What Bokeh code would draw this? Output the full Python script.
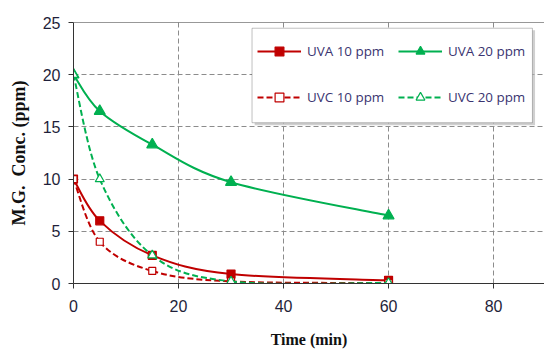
from bokeh.plotting import figure
from bokeh.models import Range1d, Legend, LegendItem, BoxAnnotation, Span, FixedTicker
from bokeh.embed import file_html
from bokeh.resources import INLINE

# ---- data ----
time_min = [0, 5, 15, 30, 60]
uva_10 = [10.0, 6.0, 2.7, 0.9, 0.3]
uva_20 = [20.0, 16.5, 13.3, 9.7, 6.5]
uvc_10 = [10.0, 4.0, 1.2, 0.2, 0.05]
uvc_20 = [20.0, 10.0, 2.7, 0.2, 0.05]
x_ticks = [0, 20, 40, 60, 80]
y_ticks = [0, 5, 10, 15, 20, 25]
labels = ["UVA 10 ppm", "UVA 20 ppm", "UVC 10 ppm", "UVC 20 ppm"]

RED = "#C00000"
GREEN = "#00B050"
NAN = float("nan")


def smooth(xs, ys):
    """Bezier control points (Catmull-Rom style, like a smoothed spreadsheet line)."""
    n = len(xs)
    pts = list(zip(xs, ys))
    out = {k: [] for k in ("x0", "y0", "x1", "y1", "cx0", "cy0", "cx1", "cy1")}
    for i in range(n - 1):
        p0 = pts[i - 1] if i > 0 else pts[i]
        p1 = pts[i]
        p2 = pts[i + 1]
        p3 = pts[i + 2] if i + 2 < n else pts[i + 1]
        out["x0"].append(p1[0]); out["y0"].append(p1[1])
        out["x1"].append(p2[0]); out["y1"].append(p2[1])
        out["cx0"].append(p1[0] + (p2[0] - p0[0]) / 6.0)
        out["cy0"].append(p1[1] + (p2[1] - p0[1]) / 6.0)
        out["cx1"].append(p2[0] - (p3[0] - p1[0]) / 6.0)
        out["cy1"].append(p2[1] - (p3[1] - p1[1]) / 6.0)
    return out


p = figure(width=544, height=350,
           x_range=Range1d(0, 89.7), y_range=Range1d(0, 25),
           output_backend="svg", toolbar_location=None,
           min_border_left=73, min_border_right=0,
           min_border_top=22, min_border_bottom=66)
p.outline_line_color = None
p.background_fill_color = "white"

# axes
for ax in (p.xaxis[0], p.yaxis[0]):
    ax.axis_line_color = "#333333"
    ax.major_tick_line_color = "#333333"
    ax.major_tick_out = 5
    ax.major_tick_in = 0
    ax.minor_tick_line_color = None
    ax.major_label_text_font = "Liberation Sans"
    ax.major_label_text_font_size = "16px"
    ax.major_label_text_color = "#1f1f3a"
    ax.axis_label_text_font = "Liberation Serif"
    ax.axis_label_text_font_style = "bold"
    ax.axis_label_text_font_size = "16px"
    ax.axis_label_text_color = "#111111"

p.xaxis.ticker = FixedTicker(ticks=x_ticks)
p.yaxis.ticker = FixedTicker(ticks=y_ticks)
p.xaxis.axis_label = "Time (min)"
p.yaxis.axis_label = "M.G.\u00a0\u00a0Conc. (ppm)"
p.yaxis.axis_label_text_font_size = "18px"
p.xaxis.major_label_standoff = 11
p.yaxis.major_label_standoff = 8
p.xaxis.axis_label_standoff = 16
p.yaxis.axis_label_standoff = 11

for g in (p.xgrid[0], p.ygrid[0]):
    g.grid_line_color = "#8c8c8c"
    g.grid_line_dash = "5 3"
    g.grid_line_width = 1

p.add_layout(Span(location=25, dimension="width", line_color="#333333", line_width=1))

# curves
series = [
    (uva_10, RED, "solid", "square", RED, 8),
    (uva_20, GREEN, "solid", "triangle", GREEN, 11),
    (uvc_10, RED, "6 3", "square", "white", 7),
    (uvc_20, GREEN, "6 3", "triangle", "white", 9),
]
items = []
for (ys, col, dash, marker, fill, size), lab in zip(series, labels):
    b = smooth(time_min, ys)
    p.bezier(source=b, x0="x0", y0="y0", x1="x1", y1="y1",
             cx0="cx0", cy0="cy0", cx1="cx1", cy1="cy1",
             line_color=col, line_width=2, line_dash=dash)
    dummy = p.line([NAN, NAN], [NAN, NAN], line_color=col, line_width=2, line_dash=dash)
    sc = p.scatter(time_min, ys, marker=marker, size=size,
                   fill_color=fill, line_color=col, line_width=1.2)
    items.append(LegendItem(label=lab, renderers=[dummy, sc], index=0))

# legend box with shadow
p.add_layout(BoxAnnotation(left=34.5, right=87.9, top=24.25, bottom=15.15,
                           fill_color="#b0b0b0", fill_alpha=0.6, line_color=None))
p.add_layout(BoxAnnotation(left=34.0, right=87.4, top=24.45, bottom=15.4,
                           fill_color="white", fill_alpha=1.0,
                           line_color="#333333", line_width=1))

for cols, xloc in ((items[0::2], 184), (items[1::2], 325)):
    lg = Legend(items=cols, location=(xloc, 175), orientation="vertical",
                glyph_width=44, glyph_height=22, label_height=22,
                spacing=24, padding=0, margin=0, label_standoff=6,
                border_line_color=None, background_fill_alpha=0,
                label_text_font="Open Sans", label_text_font_size="13.4px",
                label_text_color="#3a3470")
    p.add_layout(lg)

open("out.html", "w").write(file_html(p, INLINE))
